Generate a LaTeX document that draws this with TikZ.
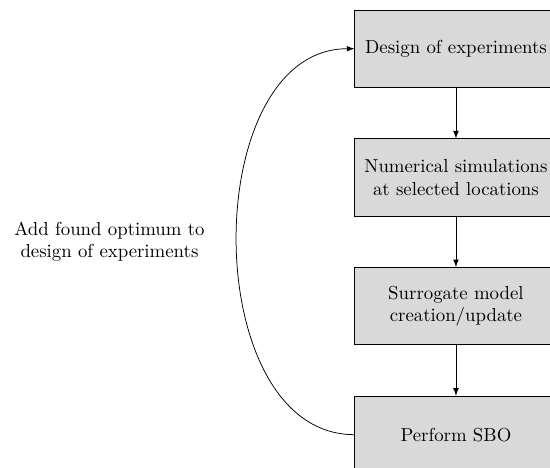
\documentclass[tikz,border=0pt]{standalone}
\usetikzlibrary{positioning}
\begin{document}
\begin{tikzpicture}[node distance=0.95cm,
  block/.style={draw, fill=gray!30, text width=3.55cm, align=center, minimum height=1.44cm},
  line/.style={draw, -latex}]
\useasboundingbox (-8.52,-7.82) rectangle (1.757,0.91);

\node[block](doe){Design of experiments};
\node[block, below=of doe](sim){Numerical simulations at selected locations};
\node[block, below=of sim](surr){Surrogate model creation/update};
\node[block, below=of surr](sbo){Perform SBO};

\draw[line](doe)--(sim);
\draw[line](sim)--(surr);
\draw[line](surr)--(sbo);

% loop back
\draw[line](sbo.west) to[out=180, in=180, looseness=1.04]
  node[left=0.48cm, align=center]{Add found optimum to\\design of experiments} (doe.west);

\end{tikzpicture}
\end{document}
